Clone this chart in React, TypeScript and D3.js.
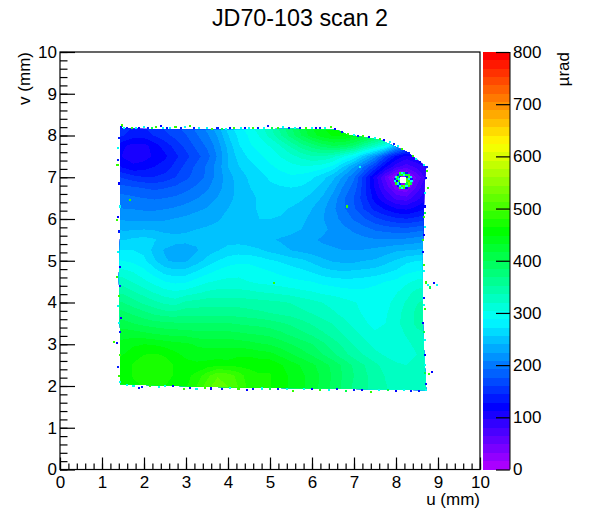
// App.tsx
// Scan map drawn as filled contour bands with a rainbow palette
import React, { useEffect, useRef } from "react";
import * as d3 from "d3";

const title = "JD70-103 scan 2";
const width = 601, height = 522;
const frame = { left: 60, right: 480, top: 52, bottom: 469.5 };
const bar = { left: 483, right: 510 };

// grid positions in mm
const uStart = 1.25, vStart = 8.25, gridStep = 0.25;

// values in urad, rows from v = 8.25 down to v = 1.75, columns from u = 1.25 to u = 8.75
const grid = [
  [160, 155, 145, 145, 155, 165, 175, 185, 200, 215, 235, 265, 285, 300, 315, 335, 360, 385, 410, 435, 450, 460, 460, 450, 435, 415, 390, 350, 310, 290, 290],
  [150, 145, 135, 135, 145, 155, 165, 175, 190, 205, 225, 255, 275, 290, 305, 325, 350, 375, 400, 425, 440, 450, 450, 440, 425, 405, 380, 340, 300, 280, 280],
  [130, 115, 105, 105, 120, 135, 150, 165, 180, 195, 215, 245, 270, 285, 295, 305, 320, 340, 360, 375, 390, 400, 395, 380, 350, 325, 300, 240, 200, 190, 190],
  [125, 110, 105, 105, 115, 125, 140, 155, 170, 185, 210, 240, 262, 275, 285, 295, 305, 315, 325, 335, 335, 325, 305, 285, 250, 215, 165, 125, 105, 115, 125],
  [140, 125, 115, 120, 128, 135, 150, 165, 180, 195, 215, 240, 255, 265, 275, 285, 292, 298, 302, 300, 295, 283, 255, 225, 190, 155, 115, 85, 70, 85, 100],
  [165, 158, 150, 145, 145, 150, 160, 172, 183, 195, 215, 232, 248, 258, 265, 275, 282, 285, 282, 275, 262, 245, 220, 195, 150, 105, 60, 15, 5, 50, 90],
  [185, 182, 178, 175, 172, 175, 180, 187, 195, 205, 218, 232, 245, 255, 262, 268, 270, 272, 270, 262, 250, 230, 205, 185, 150, 110, 75, 40, 30, 70, 100],
  [200, 198, 195, 192, 190, 192, 195, 200, 207, 215, 225, 235, 245, 252, 258, 262, 262, 262, 258, 250, 238, 218, 195, 175, 150, 120, 95, 75, 70, 90, 110],
  [210, 208, 207, 205, 205, 207, 210, 215, 220, 225, 232, 240, 248, 252, 258, 258, 258, 255, 250, 240, 228, 212, 195, 178, 158, 138, 125, 112, 108, 118, 130],
  [222, 222, 220, 220, 220, 222, 225, 228, 232, 235, 238, 245, 250, 255, 256, 256, 255, 250, 245, 235, 225, 215, 202, 190, 178, 165, 155, 148, 145, 150, 158],
  [240, 238, 238, 240, 238, 235, 235, 238, 240, 242, 245, 248, 250, 252, 252, 250, 248, 245, 240, 235, 228, 220, 212, 205, 198, 190, 186, 183, 182, 186, 190],
  [255, 255, 260, 262, 258, 250, 246, 244, 244, 246, 248, 250, 250, 248, 245, 242, 238, 235, 230, 226, 222, 220, 216, 215, 212, 210, 210, 210, 212, 216, 220],
  [275, 272, 272, 268, 250, 238, 232, 232, 238, 248, 255, 262, 264, 262, 258, 252, 246, 240, 236, 232, 228, 226, 224, 224, 225, 228, 232, 238, 240, 242, 245],
  [290, 288, 284, 276, 258, 242, 236, 238, 248, 262, 272, 280, 284, 284, 280, 274, 270, 264, 260, 252, 244, 238, 236, 236, 240, 242, 250, 258, 268, 272, 274],
  [310, 308, 302, 292, 278, 265, 260, 262, 272, 282, 290, 296, 298, 296, 292, 288, 284, 280, 275, 270, 262, 258, 256, 258, 260, 262, 268, 274, 284, 288, 292],
  [332, 328, 318, 308, 298, 288, 284, 286, 294, 302, 306, 308, 308, 304, 300, 298, 295, 292, 290, 288, 283, 280, 278, 278, 280, 284, 288, 292, 300, 308, 312],
  [352, 348, 338, 328, 318, 310, 306, 310, 316, 322, 325, 325, 325, 323, 320, 318, 315, 312, 308, 305, 300, 298, 294, 292, 292, 294, 296, 302, 314, 325, 330],
  [375, 368, 358, 348, 340, 332, 328, 340, 342, 345, 345, 345, 345, 343, 342, 340, 338, 335, 330, 325, 320, 315, 310, 305, 300, 295, 298, 310, 322, 335, 340],
  [392, 388, 380, 372, 364, 358, 358, 362, 362, 362, 362, 362, 360, 358, 355, 352, 348, 345, 340, 335, 328, 322, 315, 308, 302, 298, 302, 312, 328, 340, 345],
  [410, 406, 400, 394, 390, 388, 386, 385, 385, 385, 385, 385, 382, 380, 378, 375, 370, 365, 358, 350, 342, 335, 325, 315, 306, 300, 304, 315, 328, 340, 344],
  [425, 425, 424, 420, 416, 412, 410, 410, 405, 405, 405, 405, 403, 400, 398, 395, 388, 380, 372, 365, 355, 345, 335, 325, 315, 306, 306, 312, 322, 332, 336],
  [435, 438, 445, 448, 446, 442, 438, 435, 430, 428, 428, 428, 425, 422, 418, 415, 408, 400, 392, 385, 372, 360, 348, 335, 325, 315, 312, 310, 316, 325, 328],
  [442, 448, 458, 464, 466, 462, 452, 444, 440, 438, 438, 438, 445, 445, 440, 438, 428, 418, 408, 398, 385, 372, 358, 345, 335, 325, 318, 315, 315, 320, 322],
  [448, 455, 466, 474, 476, 472, 462, 454, 452, 456, 462, 458, 460, 460, 460, 460, 450, 440, 430, 420, 408, 395, 380, 365, 352, 340, 330, 322, 320, 322, 325],
  [450, 455, 466, 474, 474, 470, 462, 458, 470, 490, 510, 505, 490, 470, 465, 465, 455, 445, 435, 425, 412, 398, 382, 368, 355, 345, 335, 328, 324, 325, 327],
  [448, 452, 460, 465, 466, 464, 460, 462, 480, 505, 522, 512, 495, 475, 468, 465, 455, 445, 435, 425, 410, 395, 380, 365, 355, 345, 337, 330, 327, 325, 325],
  [448, 452, 460, 465, 466, 464, 460, 462, 480, 505, 522, 512, 495, 475, 468, 465, 455, 445, 435, 425, 410, 395, 380, 365, 355, 345, 337, 330, 327, 325, 325],
];

// outline of the scanned area, u and v in mm
const outline = [
  [1.43, 8.17], [2.5, 8.15], [4, 8.14], [5.5, 8.16], [6.6, 8.13], [6.85, 8.02], [7.62, 7.9],
  [8.26, 7.61], [8.72, 7.25], [8.68, 6.8], [8.66, 6.0], [8.63, 5], [8.63, 4.2],
  [8.65, 3.2], [8.72, 1.9], [7, 1.93], [5.2, 1.95], [3.4, 1.98], [1.43, 2.04],
  [1.43, 3.3], [1.4, 4.6], [1.43, 5.6], [1.43, 7.2],
];

// speckled cells along the edge and a few stray ones: u, v, value
const specks = [
  [1.48, 8.24, 480], [1.45, 8.2, 140], [1.52, 8.19, 300], [1.6, 8.17, 140], [1.72, 8.17, 480], [1.8, 8.19, 300],
  [1.88, 8.17, 120], [2.0, 8.21, 300], [2.1, 8.18, 140], [2.2, 8.17, 400], [2.28, 8.2, 480], [2.4, 8.22, 120], [2.45, 8.18, 300],
  [2.55, 8.17, 140], [2.62, 8.19, 300], [2.75, 8.2, 480], [2.88, 8.17, 140], [2.98, 8.2, 300], [3.1, 8.22, 480], [3.18, 8.18, 140],
  [3.3, 8.17, 300], [3.5, 8.17, 300], [3.62, 8.16, 480], [3.75, 8.18, 140], [3.85, 8.16, 400], [3.95, 8.16, 300], [4.05, 8.17, 120], [4.15, 8.17, 480],
  [4.3, 8.18, 300], [4.4, 8.19, 120], [4.5, 8.18, 300], [4.6, 8.17, 480], [4.72, 8.17, 140], [4.85, 8.19, 300], [4.95, 8.22, 140], [5.05, 8.18, 400], [5.2, 8.19, 480], [5.32, 8.21, 300],
  [5.45, 8.18, 140], [5.6, 8.19, 300], [5.72, 8.18, 140], [5.85, 8.19, 480], [6.0, 8.19, 300], [6.1, 8.18, 120], [6.2, 8.17, 140], [6.32, 8.18, 300], [6.45, 8.2, 480],
  [6.55, 8.16, 120], [6.72, 8.08, 140], [6.85, 8.04, 480], [7.0, 8.02, 300], [7.1, 7.99, 140], [7.22, 7.98, 480], [7.35, 7.97, 120], [7.5, 7.95, 300],
  [7.62, 7.92, 480], [7.72, 7.89, 120], [7.85, 7.85, 300], [7.95, 7.79, 140], [8.05, 7.74, 300], [8.15, 7.67, 480], [8.3, 7.58, 140], [8.4, 7.5, 480], [8.48, 7.44, 300],
  [8.58, 7.36, 120], [8.66, 7.3, 300], [8.74, 7.25, 140], [8.74, 7.15, 480], [8.72, 6.98, 120], [8.76, 6.75, 480], [8.7, 6.62, 300],
  [8.69, 6.3, 120], [8.7, 6.15, 400], [8.67, 6.05, 480], [8.69, 5.8, 300], [8.66, 5.62, 120], [8.65, 5.5, 480], [8.65, 5.2, 120],
  [8.67, 4.9, 480], [8.66, 4.75, 300], [8.72, 4.48, 480], [8.76, 4.42, 300], [8.82, 4.36, 400], [8.9, 4.46, 120],
  [8.98, 4.42, 300], [8.67, 4.1, 140], [8.66, 3.95, 300], [8.68, 3.85, 480], [8.65, 3.5, 120], [8.66, 3.3, 400], [8.68, 3.1, 300],
  [8.68, 2.75, 120], [8.68, 2.5, 300], [8.7, 2.32, 400], [8.78, 2.28, 480], [8.85, 2.34, 120], [8.72, 2.05, 140],
  [8.72, 1.9, 300], [8.55, 1.88, 140], [8.35, 1.88, 140], [8.2, 1.9, 300], [8.0, 1.87, 120], [7.8, 1.9, 400], [7.6, 1.9, 300], [7.4, 1.86, 480],
  [7.2, 1.9, 120], [7.0, 1.91, 140], [6.8, 1.88, 400], [6.6, 1.92, 140], [6.4, 1.91, 300], [6.2, 1.9, 480], [6.0, 1.93, 120], [5.8, 1.92, 300], [5.55, 1.89, 480],
  [5.4, 1.93, 300], [5.2, 1.92, 140], [5.0, 1.94, 400], [4.8, 1.94, 300], [4.6, 1.92, 140], [4.45, 1.91, 120], [4.25, 1.94, 480], [4.05, 1.96, 300], [3.85, 1.93, 140], [3.6, 1.94, 120],
  [3.45, 1.96, 480], [3.25, 1.93, 300], [3.1, 1.96, 140], [2.95, 1.93, 480], [2.7, 1.99, 120], [2.5, 1.99, 300], [2.35, 1.98, 300], [2.15, 1.99, 480], [1.95, 1.98, 140],
  [1.88, 1.95, 120], [1.75, 2.0, 300], [1.6, 2.02, 300], [1.42, 2.09, 300], [1.4, 2.25, 480], [1.38, 2.45, 140], [1.42, 2.75, 480],
  [1.36, 3.02, 120], [1.28, 3.05, 480], [1.42, 3.3, 140], [1.4, 3.5, 300], [1.45, 3.62, 120], [1.38, 3.92, 300], [1.41, 4.15, 480],
  [1.42, 4.4, 140], [1.36, 4.62, 480], [1.42, 4.85, 120], [1.38, 5.2, 300], [1.41, 5.7, 140],
  [1.36, 5.98, 480], [1.38, 6.05, 120], [1.42, 6.3, 300], [1.4, 6.85, 120], [1.37, 7.3, 480], [1.39, 7.42, 140],
  [1.38, 7.7, 300], [1.41, 7.95, 140], [1.67, 6.46, 480], [7.14, 7.25, 300], [6.83, 6.3, 480], [5.1, 4.47, 480],
];

// noisy cells round the dead spot: u, v, value
const ring = [
  [8.1, 7.1, 480], [8.15, 7.1, 300], [8.2, 7.1, 400], [8.25, 7.1, 140], [8.05, 7.05, 140], [8.1, 7.05, 400], [8.15, 7.05, 480], [8.2, 7.05, 300], [8.25, 7.05, 480], [8.3, 7.05, 400],
  [8.0, 7.0, 300], [8.05, 7.0, 480], [8.1, 7.0, 140], [8.25, 7.0, 140], [8.3, 7.0, 520], [8.35, 7.0, 300], [7.97, 6.95, 140], [8.02, 6.95, 400], [8.07, 6.95, 300], [8.27, 6.95, 480], [8.32, 6.95, 300], [8.37, 6.95, 140],
  [7.97, 6.9, 300], [8.02, 6.9, 120], [8.07, 6.9, 480], [8.27, 6.9, 520], [8.32, 6.9, 480], [8.37, 6.9, 300], [8.0, 6.85, 480], [8.05, 6.85, 300], [8.1, 6.85, 140], [8.25, 6.85, 400], [8.3, 6.85, 540], [8.35, 6.85, 400],
  [8.05, 6.8, 140], [8.1, 6.8, 300], [8.15, 6.8, 480], [8.2, 6.8, 520], [8.25, 6.8, 300], [8.3, 6.8, 480], [8.1, 6.75, 480], [8.15, 6.75, 300], [8.2, 6.75, 480], [8.25, 6.75, 140],
];
const deadCells = [[8.12, 6.98], [8.17, 6.98], [8.22, 6.98], [8.12, 6.93], [8.17, 6.93], [8.22, 6.93], [8.12, 6.88], [8.17, 6.88], [8.22, 6.88]];

const zTicks = [0, 100, 200, 300, 400, 500, 600, 700, 800];
const nColors = 50;
const zMax = 800;

// rainbow palette, violet to red
const paletteColor = (i: number) => d3.hsl(280 * (1 - i / (nColors - 1)), 1, 0.5).formatHex();
const valueColor = (z: number) => paletteColor(Math.min(nColors - 1, Math.floor((z / zMax) * nColors)));

export default function App() {
  const xRef = useRef<SVGGElement>(null);
  const yRef = useRef<SVGGElement>(null);
  const zRef = useRef<SVGGElement>(null);

  const x = d3.scaleLinear().domain([0, 10]).range([frame.left, frame.right]);
  const y = d3.scaleLinear().domain([0, 10]).range([frame.bottom, frame.top]);
  const z = d3.scaleLinear().domain([0, zMax]).range([frame.bottom, frame.top]);

  const levels = d3.range(nColors).map((i) => (i * zMax) / nColors);
  const bands = d3.contours().size([grid[0].length, grid.length]).thresholds(levels.slice(1))(grid.flat());

  // grid index to pixel; d3 puts a value at index + 0.5
  const path = d3.geoPath(
    d3.geoTransform({
      point(px, py) {
        this.stream.point(x(uStart + (px - 0.5) * gridStep), y(vStart - (py - 0.5) * gridStep));
      },
    })
  );
  const outlineLine = d3.line<number[]>().x((d) => x(d[0])).y((d) => y(d[1])).curve(d3.curveLinearClosed);
  const cell = 2.1;

  useEffect(() => {
    const styleAxis = (g: any) => {
      g.selectAll("path").remove();
      g.selectAll("line").attr("stroke", "#000").attr("stroke-width", 1.2);
      g.selectAll("text").attr("font-family", "Liberation Sans, Arial, sans-serif").attr("font-size", 17).attr("fill", "#000");
    };
    const minor = d3.range(0, 10.01, 0.2);
    const gx = d3.select(xRef.current);
    gx.selectAll("*").remove();
    gx.append("g").call(d3.axisBottom(x).tickValues(minor).tickSize(-6).tickFormat(() => "") as any).call(styleAxis);
    gx.append("g").call(d3.axisBottom(x).ticks(10).tickSize(-12).tickPadding(6).tickFormat(d3.format("d") as any) as any).call(styleAxis);
    const gy = d3.select(yRef.current);
    gy.selectAll("*").remove();
    gy.append("g").call(d3.axisLeft(y).tickValues(minor).tickSize(-7.5).tickFormat(() => "") as any).call(styleAxis);
    gy.append("g").call(d3.axisLeft(y).ticks(10).tickSize(-15).tickPadding(3).tickFormat(d3.format("d") as any) as any).call(styleAxis);
    const gz = d3.select(zRef.current);
    gz.selectAll("*").remove();
    gz.append("g").call(d3.axisRight(z).tickValues(zTicks).tickSize(-14).tickPadding(3) as any).call(styleAxis);
  }, []);

  return (
    <svg width={width} height={height} style={{ position: "absolute", left: 0, top: 0, background: "#fff" }}>
      <defs>
        <clipPath id="scan-area">
          <path d={outlineLine(outline) as string} />
        </clipPath>
      </defs>
      <g clipPath="url(#scan-area)" shapeRendering="crispEdges">
        <path d={outlineLine(outline) as string} fill={paletteColor(0)} />
        {bands.map((b, i) => (
          <path key={i} d={path(b as any) as string} fill={paletteColor(i + 1)} />
        ))}
      </g>
      <g shapeRendering="crispEdges">
        {[...specks, ...ring].map((d, i) => (
          <rect key={i} x={x(d[0]) - cell / 2} y={y(d[1]) - cell / 2} width={cell} height={cell} fill={valueColor(d[2])} />
        ))}
        {deadCells.map((d, i) => (
          <rect key={i} x={x(d[0]) - cell / 2} y={y(d[1]) - cell / 2} width={cell} height={cell} fill="#fff" />
        ))}
        {levels.map((l, i) => (
          <rect key={i} x={bar.left} width={bar.right - bar.left} y={z(l + zMax / nColors)} height={z(l) - z(l + zMax / nColors)} fill={paletteColor(i)} />
        ))}
      </g>
      <rect x={frame.left} y={frame.top} width={frame.right - frame.left} height={frame.bottom - frame.top} fill="none" stroke="#000" strokeWidth={1.2} />
      <line x1={bar.right} x2={bar.right} y1={frame.top} y2={frame.bottom} stroke="#000" strokeWidth={1} />
      <g ref={xRef} transform={`translate(0,${frame.bottom})`} />
      <g ref={yRef} transform={`translate(${frame.left},0)`} />
      <g ref={zRef} transform={`translate(${bar.right},0)`} />
      <g fontFamily="Liberation Sans, Arial, sans-serif" fill="#000">
        <text x={300} y={26} textAnchor="middle" fontSize={23.3}>{title}</text>
        <text x={frame.right} y={505} textAnchor="end" fontSize={17}>u (mm)</text>
        <text transform={`translate(30,${frame.top}) rotate(-90)`} textAnchor="end" fontSize={17}>v (mm)</text>
        <text transform={`translate(569,${frame.top}) rotate(-90)`} textAnchor="end" fontSize={17}>µrad</text>
      </g>
    </svg>
  );
}
